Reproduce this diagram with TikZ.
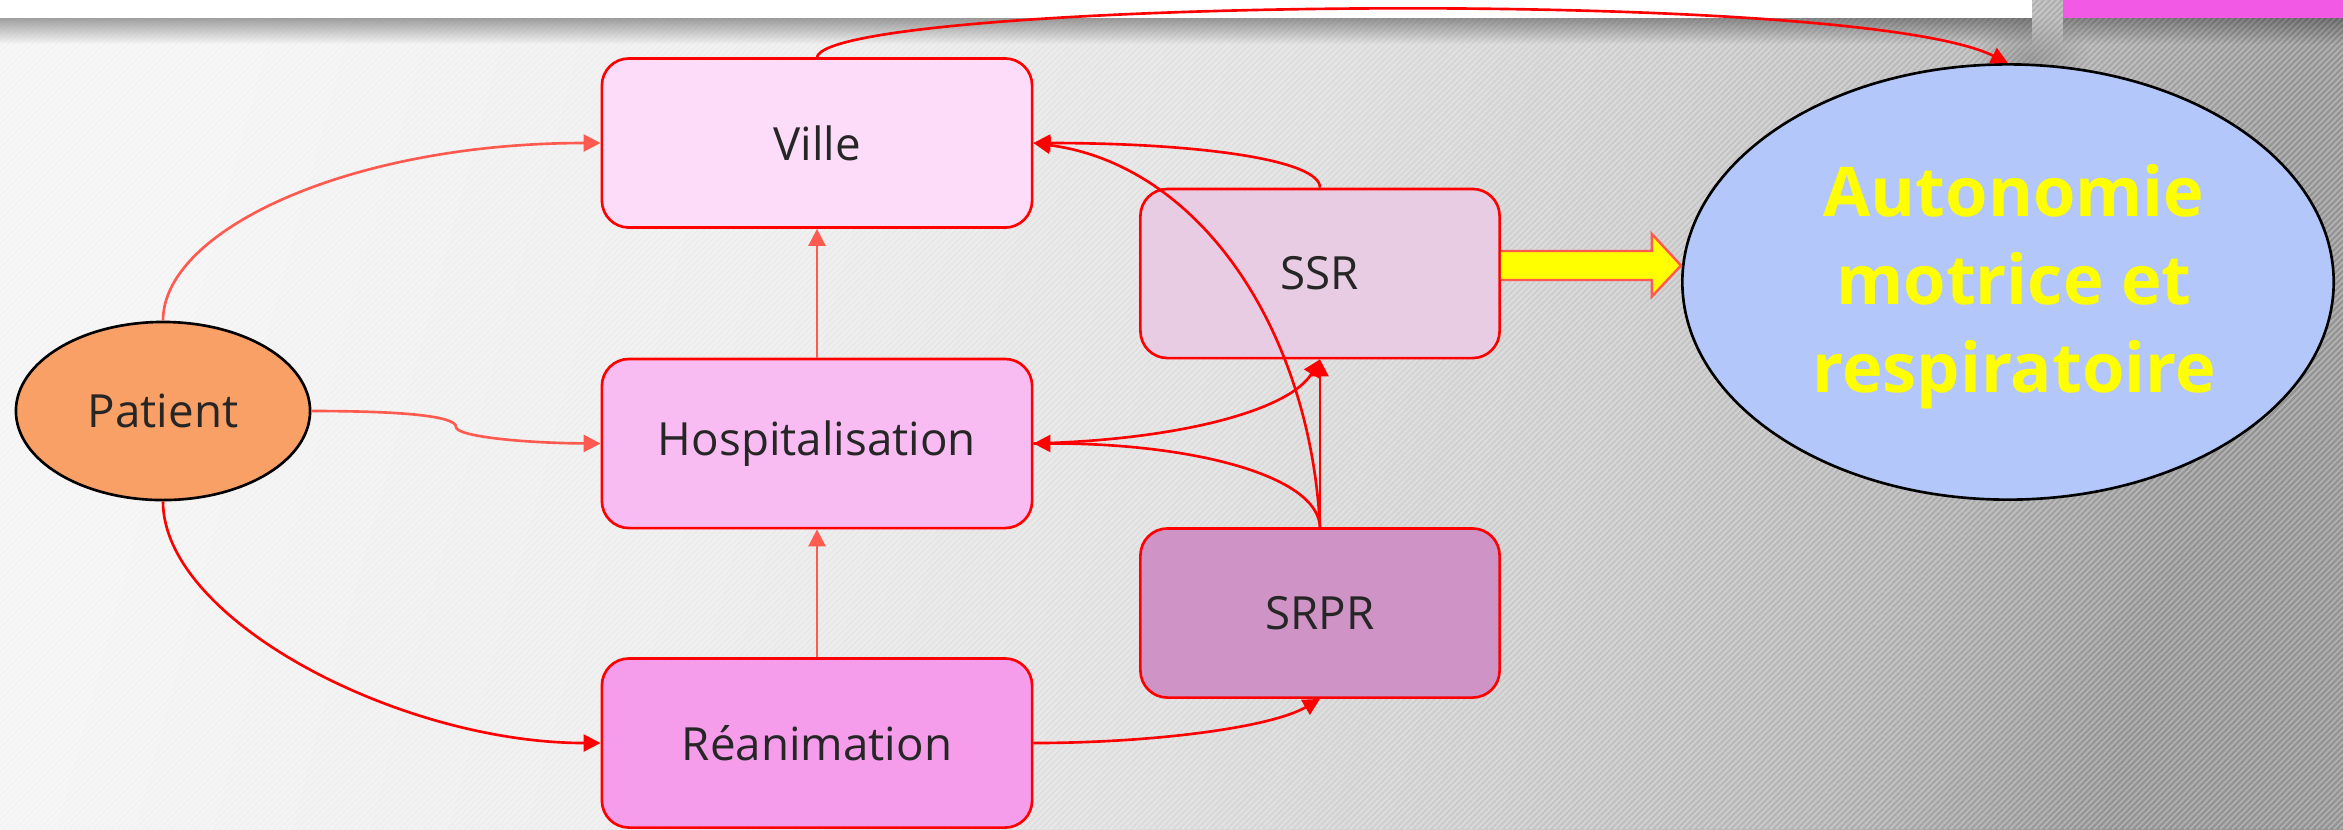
\documentclass[tikz,border=0pt]{standalone}
\usepackage{fontspec}
\setmainfont{Open Sans}
\usetikzlibrary{arrows.meta,shapes.geometric,fadings,calc}

\definecolor{cred}{HTML}{FF0000}
\definecolor{csalmon}{HTML}{FF5A4F}
\definecolor{cville}{HTML}{FCDCF8}
\definecolor{chosp}{HTML}{F8BCF2}
\definecolor{crea}{HTML}{F59DEB}
\definecolor{cssr}{HTML}{E8CCE4}
\definecolor{csrpr}{HTML}{CF93C6}
\definecolor{cpat}{HTML}{F8A066}
\definecolor{cauto}{HTML}{B4C7FA}
\definecolor{cpink}{HTML}{F25AE6}
\definecolor{ctext}{HTML}{262626}
\definecolor{cyel}{HTML}{FFFF00}
\definecolor{bgA}{HTML}{F4F4F4}
\definecolor{bgB}{HTML}{ECECEC}
\definecolor{bgC}{HTML}{DEDEDE}
\definecolor{bgD}{HTML}{CBCBCB}
\definecolor{bgF}{HTML}{B2B2B2}
\definecolor{bgE}{HTML}{949494}

\pgfdeclarehorizontalshading{bgshade}{100bp}{color(0bp)=(bgA); color(25bp)=(bgA); color(40bp)=(bgB); color(51bp)=(bgC); color(60bp)=(bgD); color(68bp)=(bgF); color(75bp)=(bgE); color(100bp)=(bgE)}
\tikzfading[name=fadedown, top color=transparent!0, bottom color=transparent!100]
\tikzfading[name=softcirc, inner color=transparent!20, outer color=transparent!100]

\tikzset{
  box/.style={draw=cred, line width=0.75pt, rounded corners=0.27cm,
    minimum width=4.30cm, minimum height=1.69cm, inner sep=0pt,
    text=ctext, font=\fontsize{13}{15}\selectfont},
  sbox/.style={box, minimum width=3.59cm},
  ed/.style={line width=0.75pt, -{Triangle[width=4.8pt,length=4.8pt]}},
  blockarrow/.style={fill=cyel, draw=csalmon, line width=0.7pt, line join=miter}
}

\begin{document}
\begin{tikzpicture}[x=0.01cm, y=-0.01cm]
\useasboundingbox (0,0) rectangle (2343,829);
% background
\begin{scope}
  \clip (0,0) rectangle (2343,829);
  \shade[shading=bgshade, shading angle=-15] (0,0) rectangle (2343,829);
  \foreach \i in {-900,-894,...,2350}
    \draw[white, opacity=0.3, line width=0.015cm] (\i,829) -- ++(829,-829);
  \fill[black, opacity=0.35, path fading=fadedown] (0,18) rectangle (2032,44);
  \fill[black, opacity=0.3, path fading=fadedown] (2063,18) rectangle (2343,44);
  \fill[black, opacity=0.22, path fading=softcirc] (2030,60) ellipse [x radius=60, y radius=45];
  \fill[white] (0,0) rectangle (2032,18);
  \fill[cpink] (2063,0) rectangle (2343,18);
\end{scope}

% nodes
\node[box, fill=cville] (ville) at (817,143) {Ville};
\node[box, fill=chosp] (hosp) at (817,443.5) {Hospitalisation};
\node[box, fill=crea] (rea) at (817,743) {Réanimation};
\node[sbox, fill=cssr] (ssr) at (1320,273.5) {SSR};
\node[sbox, fill=csrpr] (srpr) at (1320,613) {SRPR};
\node[ellipse, draw=black, line width=0.75pt, fill=cpat, minimum width=2.94cm,
  minimum height=1.78cm, inner sep=0pt, text=ctext, font=\fontsize{13}{15}\selectfont]
  (patient) at (163,411) {Patient};
\node[ellipse, draw=black, line width=0.75pt, fill=cauto, minimum width=6.51cm,
  minimum height=4.35cm, inner sep=0pt] (auto) at (2008,282) {};
\node[align=center, text=cyel, font=\fontsize{19.5}{25}\selectfont\bfseries]
  (autotxt) at (2014,287) {Autonomie\\motrice et\\respiratoire};

% block arrow
\coordinate (ba) at ($(ssr.east)+(0,-8)$);
\draw[blockarrow] ($(ba)+(0,-14.5)$) -- ++(151,0) -- ++(0,-17) -- (auto.west |- ba)
  -- ($(ba)+(151,31)$) -- ++(0,-16.5) -- ($(ba)+(0,14.5)$);

% connectors
\coordinate (pk) at (456,427);
\draw[ed, csalmon] (patient.north) .. controls (163,230) and (350,143) .. (ville.west);
\draw[ed, csalmon] (patient.east) .. controls (420,411) and (456,418) .. (pk)
  .. controls (456,436) and (520,443) .. (hosp.west);
\draw[ed, cred] (patient.south) .. controls (163,620) and (400,743) .. (rea.west);
\draw[ed, csalmon] (hosp.north) -- (ville.south);
\draw[ed, csalmon] (rea.north) -- (hosp.south);
\draw[ed, cred] (rea.east) .. controls (1150,743) and (1270,728) .. (srpr.south);
\draw[ed, cred] (srpr.north) -- (ssr.south);
\draw[ed, cred] (srpr.north) .. controls (1318,475) and (1190,443) .. (hosp.east);
\draw[ed, cred] (srpr.north) .. controls (1310,330) and (1200,165) .. (ville.east);
\draw[ed, cred] (ssr.north) .. controls (1320,160) and (1200,143) .. (ville.east);
\draw[ed, cred] (hosp.east) .. controls (1180,440) and (1290,410) .. (ssr.south);
\draw[ed, cred] (ville.north) .. controls (830,0) and (1850,-15) .. (auto.north);
\end{tikzpicture}
\end{document}
